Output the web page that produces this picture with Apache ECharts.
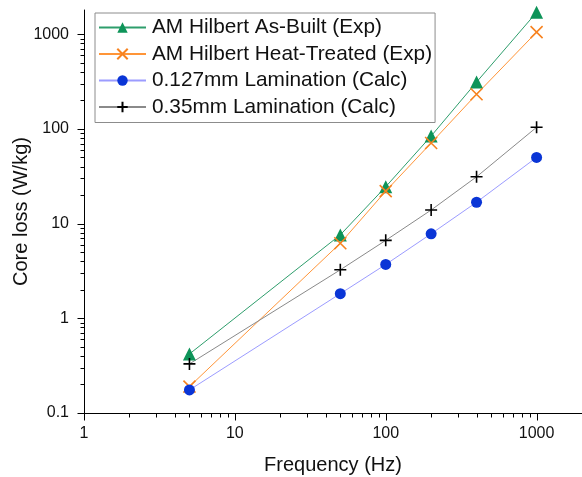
<!DOCTYPE html>
<html>
<head>
<meta charset="utf-8">
<script src="https://cdn.jsdelivr.net/npm/echarts@6/dist/echarts.min.js"></script>
<style>
html,body{margin:0;padding:0;background:#fff;}
#c{width:582px;height:477px;}
</style>
</head>
<body>
<div id="c"></div>
<script>
// ---- data ----
const frequency = [5, 50, 100, 200, 400, 1000];
const asBuilt = [0.42, 7.6, 24.5, 84, 312, 1700];
const heatTreated = [0.19, 6.2, 22, 71, 232, 1050];
const lam127 = [0.175, 1.82, 3.7, 7.8, 16.8, 50];
const lam035 = [0.33, 3.25, 6.65, 13.9, 31.2, 104];
const seriesNames = ['AM Hilbert As-Built (Exp)', 'AM Hilbert Heat-Treated (Exp)', '0.127mm Lamination (Calc)', '0.35mm Lamination (Calc)'];
const xTickLabels = ['1', '10', '100', '1000'];
const yTickLabels = ['0.1', '1', '10', '100', '1000'];
const xMin = 1, xMax = 2000, yMin = 0.1, yMax = 1800;

// tick marks (major = powers of ten, minor = 2..9 per decade)
const tickData = [];
function addTicks(lo, hi, axisFlag) {
  for (let e = Math.round(Math.log10(lo)); Math.pow(10, e) <= hi; e++) {
    for (let m = 1; m <= 9; m++) {
      const v = m * Math.pow(10, e);
      if (v < lo * 0.999 || v > hi * 1.001) continue;
      if (axisFlag === 0) tickData.push([v, yMin, m === 1 ? 1 : 0, 0]);
      else tickData.push([xMin, v, m === 1 ? 1 : 0, 1]);
    }
  }
}
addTicks(xMin, xMax, 0);
addTicks(yMin, yMax, 1);

function pairs(ys) { return frequency.map((f, i) => [f, ys[i]]); }
function labelFor(list, base) {
  return function (v) {
    const l = Math.log10(v);
    const r = Math.round(l);
    if (Math.abs(l - r) > 1e-6) return '';
    return list[r - base] || '';
  };
}

const FONT = '"Liberation Sans", Arial, sans-serif';
const chart = echarts.init(document.getElementById('c'), null, {renderer: 'canvas'});
chart.setOption({
  animation: false,
  backgroundColor: '#fff',
  textStyle: {fontFamily: FONT},
  grid: {left: 84, right: 0, top: 10, bottom: 64, containLabel: false, outerBoundsMode: 'none'},
  legend: {
    data: seriesNames,
    orient: 'vertical',
    left: 95, top: 13,
    padding: [4, 3, 5, 3],
    itemWidth: 47, itemHeight: 13, itemGap: 5.5,
    borderColor: '#8c8c8c', borderWidth: 1, borderRadius: 0,
    backgroundColor: '#fff',
    textStyle: {fontFamily: FONT, fontSize: 20.8, color: '#111', lineHeight: 20, padding: [0, 0, 0, 1]}
  },
  xAxis: {
    type: 'log', logBase: 10, min: xMin, max: xMax,
    name: 'Frequency (Hz)', nameLocation: 'middle', nameGap: 42, nameMoveOverlap: false,
    nameTextStyle: {fontFamily: FONT, fontSize: 20, color: '#111'},
    axisLine: {show: true, lineStyle: {color: '#000', width: 1}},
    axisTick: {show: false}, minorTick: {show: false}, splitLine: {show: false},
    axisLabel: {fontFamily: FONT, fontSize: 16, color: '#111', margin: 12.5, formatter: labelFor(xTickLabels, 0), showMaxLabel: false}
  },
  yAxis: {
    type: 'log', logBase: 10, min: yMin, max: yMax,
    name: 'Core loss (W/kg)', nameLocation: 'middle', nameGap: 53, nameMoveOverlap: false,
    nameTextStyle: {fontFamily: FONT, fontSize: 20, color: '#111'},
    axisLine: {show: true, lineStyle: {color: '#000', width: 1}},
    axisTick: {show: false}, minorTick: {show: false}, splitLine: {show: false},
    axisLabel: {fontFamily: FONT, fontSize: 16, color: '#111', margin: 15, formatter: labelFor(yTickLabels, -1), showMaxLabel: false}
  },
  series: [
    {
      name: seriesNames[0], type: 'line', data: pairs(asBuilt),
      symbol: 'triangle', symbolSize: 13,
      itemStyle: {color: '#0E9459'},
      lineStyle: {color: '#2E9E6C', width: 1}, z: 3
    },
    {
      name: seriesNames[1], type: 'line', data: pairs(heatTreated),
      symbol: 'path://M0,0L10,10M10,0L0,10', symbolSize: 12,
      itemStyle: {color: 'none', borderColor: '#F7821F', borderWidth: 1.6},
      lineStyle: {color: '#FF9538', width: 1}, z: 3
    },
    {
      name: seriesNames[2], type: 'line', data: pairs(lam127),
      symbol: 'circle', symbolSize: 11,
      itemStyle: {color: '#0A35D6'},
      lineStyle: {color: '#9C9CFF', width: 1}, z: 3
    },
    {
      name: seriesNames[3], type: 'line', data: pairs(lam035),
      symbol: 'path://M5,0L5,10M0,5L10,5', symbolSize: 12,
      itemStyle: {color: 'none', borderColor: '#000', borderWidth: 1.6},
      lineStyle: {color: '#8A8A8A', width: 1}, z: 3
    },
    {
      name: 'ticks', type: 'custom', data: tickData, silent: true, clip: false, z: 2,
      renderItem: function (params, api) {
        const major = api.value(2) === 1;
        const len = major ? 7 : 4;
        const p = api.coord([api.value(0), api.value(1)]);
        const x = Math.round(p[0]) + 0.5, y = Math.round(p[1]) + 0.5;
        if (api.value(3) === 0) {
          return {type: 'line', shape: {x1: x, y1: y, x2: x, y2: y + len}, style: {stroke: '#000', lineWidth: 1}};
        }
        return {type: 'line', shape: {x1: x - len, y1: y, x2: x, y2: y}, style: {stroke: '#000', lineWidth: 1}};
      }
    }
  ]
});
</script>
</body>
</html>
